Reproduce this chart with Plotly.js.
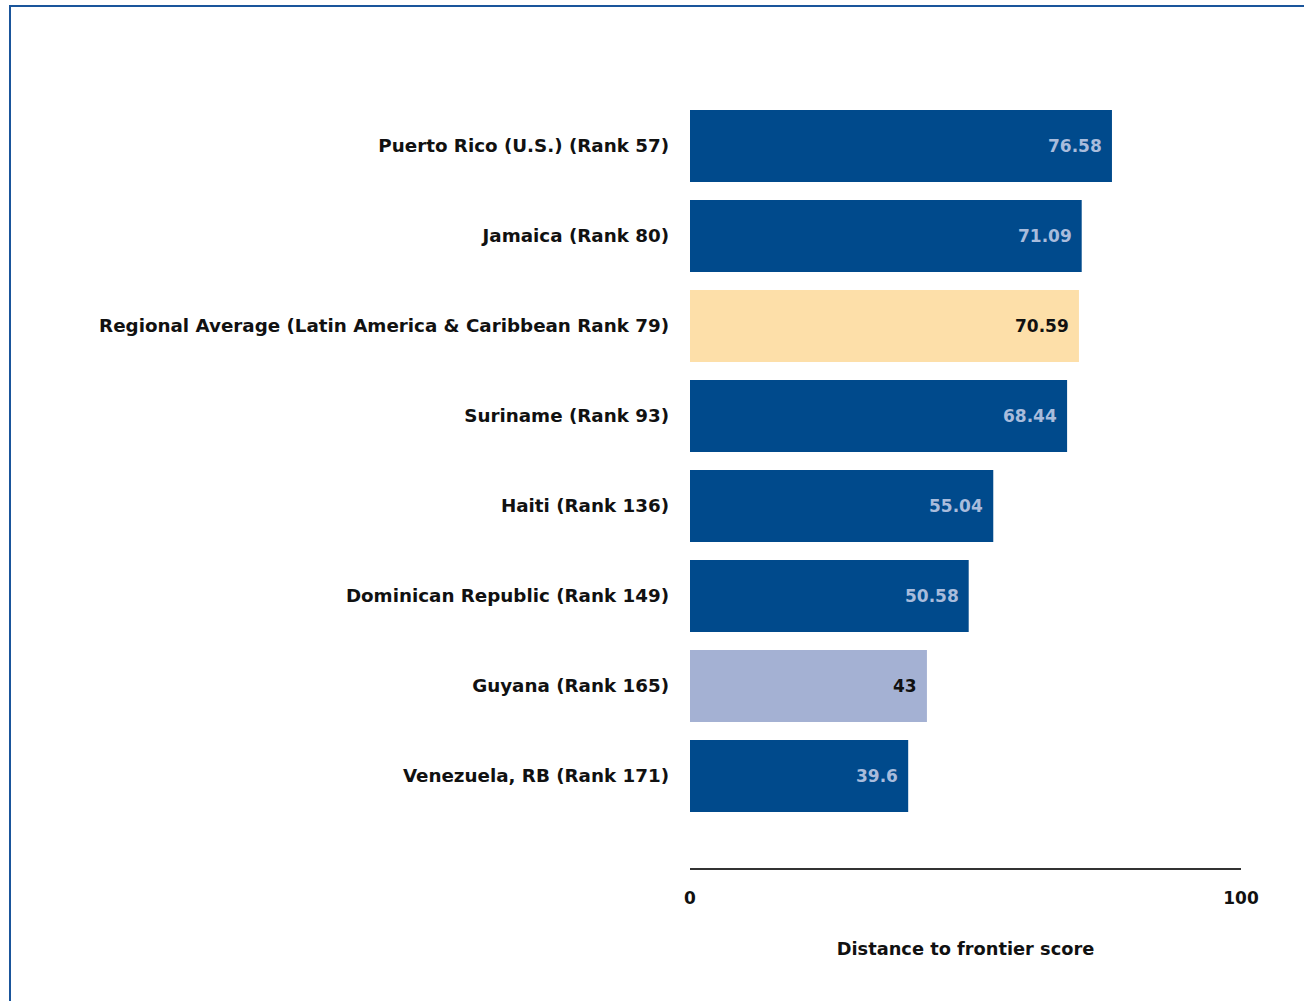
<!DOCTYPE html>
<html>
<head>
<meta charset="utf-8">
<script src="https://cdn.plot.ly/plotly-3.0.1.min.js"></script>
<style>
  html, body { margin: 0; padding: 0; background: #ffffff; }
  #frame { position: absolute; left: 9px; top: 5px; width: 1295px; height: 996px;
           border-top: 2px solid #1a559b; border-left: 2px solid #1a559b; box-sizing: border-box; }
  #chart { position: absolute; left: 0; top: 0; width: 1304px; height: 1001px; }
</style>
</head>
<body>
<div id="chart"></div>
<div id="frame"></div>
<script>
const categories = [
  "Puerto Rico (U.S.) (Rank 57)",
  "Jamaica (Rank 80)",
  "Regional Average (Latin America & Caribbean Rank 79)",
  "Suriname (Rank 93)",
  "Haiti (Rank 136)",
  "Dominican Republic (Rank 149)",
  "Guyana (Rank 165)",
  "Venezuela, RB (Rank 171)"
];
const scores = [76.58, 71.09, 70.59, 68.44, 55.04, 50.58, 43, 39.6];
const scoreLabels = ["76.58", "71.09", "70.59", "68.44", "55.04", "50.58", "43", "39.6"];
const barColors = ["#004a8c", "#004a8c", "#fddfa9", "#004a8c", "#004a8c", "#004a8c", "#a4b1d3", "#004a8c"];
const labelColors = ["#a9bcdc", "#a9bcdc", "#111111", "#a9bcdc", "#a9bcdc", "#a9bcdc", "#111111", "#a9bcdc"];
const xTicks = [0, 100];

const font = "'DejaVu Sans', Verdana, sans-serif";

const trace = {
  type: "bar",
  orientation: "h",
  y: categories,
  x: scores,
  textposition: "none",
  marker: { color: barColors, line: { width: 0 } },
  hoverinfo: "none"
};

const annotations = categories.map((c, i) => ({
  x: scores[i],
  y: c,
  xref: "x",
  yref: "y",
  text: scoreLabels[i],
  showarrow: false,
  xanchor: "right",
  yanchor: "middle",
  xshift: -8,
  font: { family: font, size: 17, color: labelColors[i], weight: "bold" }
}));

const layout = {
  width: 1304,
  height: 1001,
  paper_bgcolor: "#ffffff",
  plot_bgcolor: "#ffffff",
  margin: { l: 690, r: 63, t: 101, b: 133 },
  bargap: 0.2,
  showlegend: false,
  annotations: annotations,
  xaxis: {
    range: [0, 100],
    tickvals: xTicks,
    ticktext: xTicks.map(String),
    showgrid: false,
    zeroline: false,
    showline: true,
    linecolor: "#333333",
    linewidth: 2,
    ticks: "",
    tickfont: { family: font, size: 17, color: "#111111", weight: "bold" },
    ticklabelstandoff: 14,
    title: { text: "Distance to frontier score", font: { family: font, size: 17.8, color: "#111111", weight: "bold" }, standoff: 35 }
  },
  yaxis: {
    type: "category",
    categoryorder: "array",
    categoryarray: categories,
    range: [8.022, -0.5],
    showgrid: false,
    zeroline: false,
    showline: false,
    ticks: "",
    ticklabelstandoff: 20,
    tickfont: { family: font, size: 18.3, color: "#111111", weight: "bold" }
  }
};

Plotly.newPlot("chart", [trace], layout, { displayModeBar: false, staticPlot: true });
</script>
</body>
</html>
